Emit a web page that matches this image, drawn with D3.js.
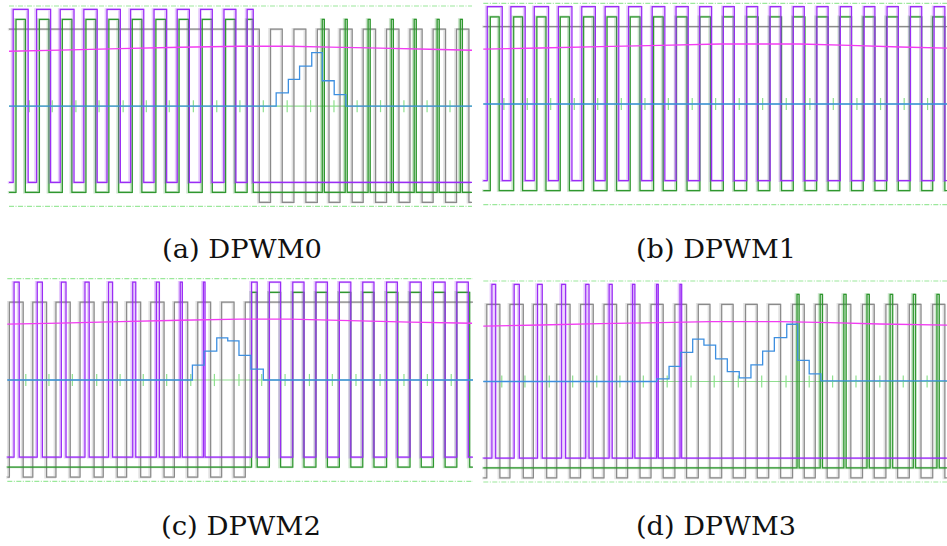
<!DOCTYPE html>
<html>
<head>
<meta charset="utf-8">
<script src="https://cdn.jsdelivr.net/npm/d3@7"></script>
<style>
  html, body { margin: 0; padding: 0; background: #fff; }
  svg { display: block; }
</style>
</head>
<body>
<svg id="fig" width="947" height="546"></svg>
<script>
// ---- Captured waveforms: four DPWM modes, each ~19.8 µs wide ----
// Logic traces are lists of [rise, fall] times in µs (high intervals).
// Analog traces: error code in LSB (step), output voltage trace in screen divisions.

// (a) DPWM0
const purpleA = [[0.18,0.82],[1.18,1.78],[2.19,2.78],[3.2,3.77],[4.19,4.76],[5.2,5.76],[6.2,6.74],[7.19,7.71],[8.19,8.69],[9.19,9.7],[10.18,10.44]];
const greenA = [[0.3,0.7],[1.3,1.71],[2.28,2.69],[3.29,3.71],[4.27,4.69],[5.27,5.68],[6.28,6.7],[7.27,7.68],[8.26,8.69],[9.26,9.67],[10.18,10.44],
  [13.39,13.48],[14.37,14.46],[15.35,15.44],[16.34,16.43],[17.32,17.41],[18.3,18.39],[19.29,19.38]];
const grayA = [[0,10.7],[11.18,11.68],[12.18,12.69],[13.18,13.68],[14.15,14.67],[15.14,15.67],[16.14,16.67],[17.14,17.66],[18.13,18.66],[19.13,19.66]];
const errTimeA = [0, 11.42, 11.94, 12.42, 12.94, 13.39, 13.9, 14.4];
const errCodeA = [0, 1, 2, 3, 4, 1.9, 0.86, 0];
const voutTimeA = [0, 2.18, 4.74, 7.31, 9.87, 12.01, 13.72, 15.85, 17.99, 19.79];
const voutDivA = [7.74, 7.80, 7.87, 7.94, 7.99, 7.99, 7.95, 7.90, 7.84, 7.79];
const sampleA = [0.87,1.85,2.86,3.85,4.88,5.87,6.85,7.88,8.88,9.87,10.87,11.89,12.89,13.89,14.88,15.88,16.88,17.87,18.85];

// (b) DPWM1
const purpleB = [[0.17,0.81],[1.18,1.79],[2.18,2.79],[3.21,3.79],[4.21,4.79],[5.21,5.79],[6.21,6.77],[7.22,7.76],[8.24,8.76],[9.25,9.76],
  [10.26,10.73],[11.26,11.73],[12.26,12.72],[13.25,13.72],[14.26,14.74],[15.26,15.74],[16.28,16.74],[17.26,17.74],[18.26,18.74],[19.27,19.73]];
const greenB = [[0.3,0.68],[1.3,1.68],[2.29,2.68],[3.29,3.68],[4.29,4.72],[5.29,5.7],[6.28,6.7],[7.28,7.69],[8.26,8.71],[9.26,9.72],
  [10.26,10.73],[11.26,11.75],[12.25,12.75],[13.25,13.75],[14.25,14.74],[15.24,15.74],[16.24,16.74],[17.24,17.74],[18.24,18.74],[19.21,19.73]];
const grayB = [[0,19.82]];
const errTimeB = [0];
const errCodeB = [0];
const voutTimeB = [0, 2.42, 4.99, 7.55, 10.11, 13.53, 15.67, 17.81, 19.82];
const voutDivB = [7.72, 7.78, 7.85, 7.91, 7.98, 7.98, 7.91, 7.83, 7.77];
const sampleB = [0.88,1.88,2.88,3.89,4.89,5.9,6.91,7.91,8.93,9.93,10.94,11.94,12.95,13.96,14.96,15.97,16.98,17.99,18.99];

// (c) DPWM2
const purpleC = [[0.29,0.51],[1.28,1.5],[2.31,2.51],[3.32,3.5],[4.33,4.5],[5.36,5.49],[6.37,6.5],[7.39,7.48],[8.38,8.45],
  [10.44,10.68],[11.2,11.68],[12.2,12.68],[13.19,13.68],[14.19,14.68],[15.19,15.67],[16.21,16.67],[17.21,17.69],[18.21,18.71],[19.21,19.7]];
const greenC = [[10.44,10.68],[11.2,11.68],[12.2,12.68],[13.19,13.68],[14.19,14.68],[15.19,15.67],[16.21,16.69],[17.21,17.69],[18.21,18.71],[19.21,19.76]];
const grayC = [[0.09,0.68],[1.09,1.68],[2.08,2.69],[3.11,3.71],[4.1,4.7],[5.1,5.7],[6.13,6.7],[7.14,7.71],[8.14,8.69],[9.16,9.69],[10.17,19.9]];
const errTimeC = [0, 7.91, 8.41, 8.95, 9.42, 9.9, 10.41, 10.94];
const errCodeC = [0, 1.1, 2.14, 3.11, 2.89, 1.82, 0.8, 0];
const voutTimeC = [0, 2.25, 4.82, 7.38, 9.94, 12.08, 14.65, 17.21, 19.86];
const voutDivC = [7.76, 7.81, 7.88, 7.95, 8.0, 8.0, 7.93, 7.86, 7.80];
const sampleC = [0.79,1.78,2.78,3.82,4.82,5.81,6.81,7.84,8.85,9.9,10.87,11.87,12.91,13.89,14.9,15.93,16.95,17.95,18.97];

// (d) DPWM3
const purpleD = [[0.37,0.53],[1.32,1.54],[2.32,2.52],[3.35,3.52],[4.38,4.52],[5.38,5.51],[6.38,6.48],[7.41,7.48],[8.41,8.48]];
const greenD = [[13.41,13.5],[14.4,14.5],[15.41,15.51],[16.4,16.5],[17.39,17.5],[18.38,18.48],[19.39,19.49]];
const grayD = [[0.15,0.71],[1.14,1.71],[2.14,2.71],[3.14,3.71],[4.16,4.7],[5.16,5.7],[6.17,6.7],[7.17,7.69],[8.19,8.69],[9.19,9.69],
  [10.19,10.68],[11.21,11.71],[12.2,12.71],[13.22,13.72],[14.19,14.7],[15.2,15.71],[16.21,16.71],[17.21,17.71],[18.21,18.71],[19.21,19.73]];
const errTimeD = [0, 7.41, 7.94, 8.44, 8.95, 9.43, 9.93, 10.43, 10.94, 11.44, 11.94, 12.44, 12.97, 13.44, 13.93, 14.43];
const errCodeD = [0, 0.2, 1.13, 2.17, 3.16, 2.72, 1.69, 0.74, 0.27, 1.24, 2.27, 3.28, 4.27, 1.58, 0.57, 0.05];
const voutTimeD = [0, 2.42, 4.99, 7.55, 9.69, 12.68, 14.82, 16.95, 19.82];
const voutDivD = [7.75, 7.81, 7.88, 7.93, 7.98, 7.98, 7.93, 7.86, 7.80];
const sampleD = [0.79,1.78,2.82,3.82,4.85,5.84,6.84,7.86,8.88,9.87,10.9,11.9,12.94,13.93,14.93,15.93,16.95,17.95,18.97];

const captions = ["(a) DPWM0", "(b) DPWM1", "(c) DPWM2", "(d) DPWM3"];
const spans = [19.79, 19.82, 19.9, 19.82];

// ---- assemble panels ----
const panels = [
  { purple: purpleA, green: greenA, gray: grayA, errT: errTimeA, errV: errCodeA, vT: voutTimeA, vV: voutDivA, samples: sampleA },
  { purple: purpleB, green: greenB, gray: grayB, errT: errTimeB, errV: errCodeB, vT: voutTimeB, vV: voutDivB, samples: sampleB },
  { purple: purpleC, green: greenC, gray: grayC, errT: errTimeC, errV: errCodeC, vT: voutTimeC, vV: voutDivC, samples: sampleC },
  { purple: purpleD, green: greenD, gray: grayD, errT: errTimeD, errV: errCodeD, vT: voutTimeD, vV: voutDivD, samples: sampleD }
].map((p, i) => Object.assign(p, { caption: captions[i], span: spans[i] }));

// screen frames for the four captures
const frames = [
  { x0: 9,     x1: 472, y0: 6,     y1: 206.3, capX: 242, capY: 258 },
  { x0: 483.3, x1: 947, y0: 3.3,   y1: 204.7, capX: 716, capY: 258 },
  { x0: 7.3,   x1: 473, y0: 278.7, y1: 481.3, capX: 241, capY: 535 },
  { x0: 483.3, x1: 947, y0: 281,   y1: 482,   capX: 716, capY: 535 }
];

// vertical placement of channels in screen divisions (0..10)
const channels = {
  gray:   { lo: 0.2,  hi: 8.84, color: "#8a8a8a" },
  green:  { lo: 0.7,  hi: 9.33, color: "#2f972f" },
  purple: { lo: 1.19, hi: 9.83, color: "#9a2cf5" }
};
const errOffset = 5.0, errGain = 0.667; // divisions, divisions per LSB
const tickHalf = 0.3;

const svg = d3.select("#fig");

function squarePoints(intervals, span, lo, hi) {
  const pts = [];
  const startsHigh = intervals.length > 0 && intervals[0][0] <= 0;
  pts.push([0, startsHigh ? hi : lo]);
  intervals.forEach(([r, f]) => {
    if (r > 0) pts.push([r, lo], [r, hi]);
    const fe = Math.min(f, span);
    pts.push([fe, hi]);
    if (f < span) pts.push([f, lo]);
  });
  const last = pts[pts.length - 1];
  if (last[0] < span) pts.push([span, last[1]]);
  return pts;
}

panels.forEach((p, i) => {
  const f = frames[i];
  const x = d3.scaleLinear().domain([0, p.span]).range([f.x0, f.x1]);
  const y = d3.scaleLinear().domain([0, 10]).range([f.y1, f.y0]);
  const g = svg.append("g");

  // frame guide lines (top and bottom of screen)
  g.selectAll("line.frame").data([0, 10]).join("line")
    .attr("x1", x(0)).attr("x2", x(p.span))
    .attr("y1", d => y(d)).attr("y2", d => y(d))
    .attr("stroke", "#9be89b").attr("stroke-width", 1.2)
    .attr("stroke-dasharray", "5,1.5,1,1.5");

  // sampling reference line with sample markers
  g.append("line")
    .attr("x1", x(0)).attr("x2", x(p.span))
    .attr("y1", y(errOffset)).attr("y2", y(errOffset))
    .attr("stroke", "#8fe08f").attr("stroke-width", 1.2);
  g.selectAll("line.sample").data(p.samples).join("line")
    .attr("x1", d => x(d)).attr("x2", d => x(d))
    .attr("y1", y(errOffset - tickHalf)).attr("y2", y(errOffset + tickHalf))
    .attr("stroke", "#8fe08f").attr("stroke-width", 1.2);

  const line = d3.line().x(d => x(d[0])).y(d => y(d[1]));

  // logic channels
  ["gray", "green", "purple"].forEach(key => {
    const c = channels[key];
    const pts = squarePoints(p[key], p.span, c.lo, c.hi);
    // faint persistence trace
    g.append("path")
      .attr("d", line(pts.map(d => [d[0] - 0.05, d[1]])))
      .attr("fill", "none").attr("stroke", c.color)
      .attr("stroke-opacity", 0.25).attr("stroke-width", 2.4);
    g.append("path")
      .attr("d", line(pts))
      .attr("fill", "none").attr("stroke", c.color)
      .attr("stroke-width", 1.25);
  });

  // output voltage trace
  const vPts = p.vT.map((t, k) => [t, p.vV[k]]);
  g.append("path")
    .attr("d", d3.line().x(d => x(d[0])).y(d => y(d[1])).curve(d3.curveLinear)(vPts))
    .attr("fill", "none").attr("stroke", "#f23cf2").attr("stroke-width", 1.3);

  // error code trace (stepped)
  const ePts = p.errT.map((t, k) => [t, errOffset + errGain * p.errV[k]]);
  ePts.push([p.span, ePts[ePts.length - 1][1]]);
  g.append("path")
    .attr("d", d3.line().x(d => x(d[0])).y(d => y(d[1])).curve(d3.curveStepAfter)(ePts))
    .attr("fill", "none").attr("stroke", "#3d8fe0").attr("stroke-width", 1.3);

  // caption
  svg.append("text")
    .attr("x", f.capX).attr("y", f.capY)
    .attr("text-anchor", "middle")
    .attr("font-family", "'DejaVu Serif', serif")
    .attr("font-size", 26)
    .attr("textLength", 160).attr("lengthAdjust", "spacingAndGlyphs")
    .attr("fill", "#111")
    .text(p.caption);
});
</script>
</body>
</html>
